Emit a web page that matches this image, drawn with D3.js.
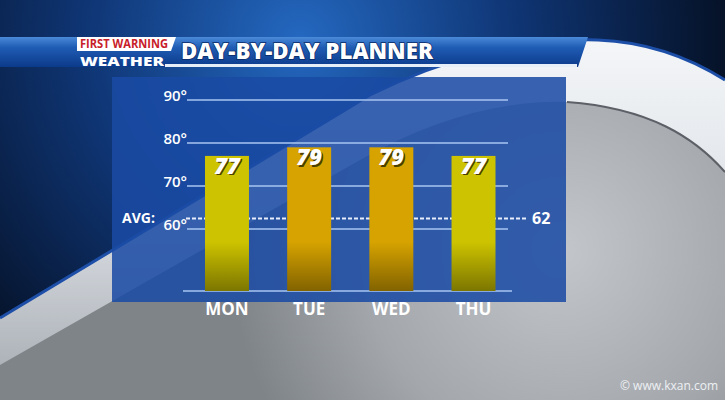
<!DOCTYPE html>
<html>
<head>
<meta charset="utf-8">
<script src="https://cdn.jsdelivr.net/npm/d3@7"></script>
<style>
  html, body { margin: 0; padding: 0; background: #000; }
  svg { display: block; }
  text { font-family: "Open Sans", "DejaVu Sans", sans-serif; }
</style>
</head>
<body>
<div class="chart"></div>
<script>
// chart data
var days = ["MON", "TUE", "WED", "THU"];
var highs = [77, 79, 79, 77];
var barColors = ["#cdc300", "#d6a300", "#d6a300", "#cdc300"];
var tickValues = [60, 70, 80, 90];
var avgValue = 62;
var title = "DAY-BY-DAY PLANNER";

var width = 725, height = 400;

var svg = d3.select(".chart").append("svg")
    .attr("width", width)
    .attr("height", height);

var defs = svg.append("defs");

// background gradients
var sky = defs.append("radialGradient").attr("id", "sky")
    .attr("gradientUnits", "userSpaceOnUse")
    .attr("cx", 300).attr("cy", 40).attr("r", 480);
sky.append("stop").attr("offset", 0).attr("stop-color", "#2468c0");
sky.append("stop").attr("offset", 0.45).attr("stop-color", "#0f3574");
sky.append("stop").attr("offset", 1).attr("stop-color", "#030914");

var grey = defs.append("radialGradient").attr("id", "grey")
    .attr("gradientUnits", "userSpaceOnUse")
    .attr("cx", 560).attr("cy", 250).attr("r", 330);
grey.append("stop").attr("offset", 0).attr("stop-color", "#c3c6ca");
grey.append("stop").attr("offset", 0.6).attr("stop-color", "#a3a7ac");
grey.append("stop").attr("offset", 1).attr("stop-color", "#7f8489");

var ring = defs.append("linearGradient").attr("id", "ring")
    .attr("x1", 0).attr("y1", 0).attr("x2", 0).attr("y2", 1);
ring.append("stop").attr("offset", 0).attr("stop-color", "#f4f6f8");
ring.append("stop").attr("offset", 0.5).attr("stop-color", "#dfe3e8");
ring.append("stop").attr("offset", 1).attr("stop-color", "#aeb3b9");

var band = defs.append("linearGradient").attr("id", "band")
    .attr("x1", 0).attr("y1", 0).attr("x2", 0).attr("y2", 1);
band.append("stop").attr("offset", 0).attr("stop-color", "#4a8ad8");
band.append("stop").attr("offset", 0.35).attr("stop-color", "#1f5cb4");
band.append("stop").attr("offset", 1).attr("stop-color", "#0c3a8a");

// bar gradients: bright on top, dark olive near the base
barColors.forEach(function(c, i) {
  var g = defs.append("linearGradient").attr("id", "bar" + i)
      .attr("gradientUnits", "userSpaceOnUse")
      .attr("x1", 0).attr("y1", 242).attr("x2", 0).attr("y2", 291);
  g.append("stop").attr("offset", 0).attr("stop-color", c);
  g.append("stop").attr("offset", 1).attr("stop-color", d3.color(c).darker(1.4));
});

// backdrop
svg.append("rect").attr("width", width).attr("height", height).attr("fill", "url(#grey)");

// dark sky above the swoosh
svg.append("path")
    .attr("d", "M0,0 L725,0 L725,80 C690,58 650,42 598,40 C520,38 440,60 370,95 L0,318 Z")
    .attr("fill", "url(#sky)");

// silver swoosh
svg.append("path")
    .attr("d", "M0,318 L370,95 C440,60 520,38 598,40 C650,42 690,58 725,80 L725,172 C695,138 650,108 567,102 C500,100 430,120 360,160 L0,365 Z")
    .attr("fill", "url(#ring)");
svg.append("path")
    .attr("d", "M0,318 L370,95 C440,60 520,38 598,40 C650,42 690,58 725,80")
    .attr("fill", "none").attr("stroke", "#1d4fa8").attr("stroke-width", 3);
svg.append("path")
    .attr("d", "M725,172 C695,138 650,108 567,102")
    .attr("fill", "none").attr("stroke", "#5d6167").attr("stroke-width", 2);

// chart panel
svg.append("rect")
    .attr("x", 112).attr("y", 77).attr("width", 454).attr("height", 225)
    .attr("fill", "#1a4ba4").attr("opacity", 0.86);

// scales
var x = d3.scaleBand()
    .domain(days)
    .range([205, 495.5])
    .paddingInner(0.465)
    .paddingOuter(0);

var y = d3.scaleLinear()
    .domain([45.6, 90])
    .range([291, 100]);

// grid lines
svg.append("g").selectAll("line")
    .data(tickValues)
    .enter().append("line")
    .attr("x1", 187).attr("x2", 508)
    .attr("y1", function(d) { return y(d); })
    .attr("y2", function(d) { return y(d); })
    .attr("stroke", "#a9c6f2").attr("stroke-width", 1.5);

svg.append("line")
    .attr("x1", 183).attr("x2", 512)
    .attr("y1", y.range()[0]).attr("y2", y.range()[0])
    .attr("stroke", "#a9c6f2").attr("stroke-width", 1.5);

// tick labels
svg.append("g").selectAll("text")
    .data(tickValues)
    .enter().append("text")
    .attr("x", 187)
    .attr("y", function(d) { return y(d) + 1; })
    .attr("text-anchor", "end")
    .attr("fill", "#fff")
    .attr("font-size", 15)
    .attr("font-weight", 600)
    .text(function(d) { return d + "°"; });

// average line
svg.append("line")
    .attr("x1", 186).attr("x2", 527)
    .attr("y1", y(avgValue) - 2).attr("y2", y(avgValue) - 2)
    .attr("stroke", "#e8eefc").attr("stroke-width", 2)
    .attr("stroke-dasharray", "4,2");

svg.append("text")
    .attr("x", 122).attr("y", y(avgValue) + 3)
    .attr("fill", "#fff").attr("font-size", 14).attr("font-weight", 700)
    .text("AVG:");

svg.append("text")
    .attr("x", 532).attr("y", y(avgValue) + 4)
    .attr("fill", "#fff").attr("font-size", 16).attr("font-weight", 700)
    .text(avgValue);

// bars
svg.append("g").selectAll("rect")
    .data(highs)
    .enter().append("rect")
    .attr("x", function(d, i) { return x(days[i]); })
    .attr("y", function(d) { return y(d); })
    .attr("width", x.bandwidth())
    .attr("height", function(d) { return y.range()[0] - y(d); })
    .attr("fill", function(d, i) { return "url(#bar" + i + ")"; });

// bar values (shadow then white)
var vals = svg.append("g");
vals.selectAll("text.shadow")
    .data(highs)
    .enter().append("text")
    .attr("class", "shadow")
    .attr("x", function(d, i) { return x(days[i]) + x.bandwidth() / 2 + 1.5; })
    .attr("y", function(d) { return y(d) + 19.5; })
    .attr("text-anchor", "middle")
    .attr("fill", "#4a3f00").attr("font-size", 22).attr("font-weight", 800)
    .attr("font-style", "italic")
    .text(function(d) { return d; });
vals.selectAll("text.val")
    .data(highs)
    .enter().append("text")
    .attr("class", "val")
    .attr("x", function(d, i) { return x(days[i]) + x.bandwidth() / 2; })
    .attr("y", function(d) { return y(d) + 18; })
    .attr("text-anchor", "middle")
    .attr("fill", "#fff").attr("font-size", 22).attr("font-weight", 800)
    .attr("font-style", "italic")
    .text(function(d) { return d; });

// day labels
svg.append("g").selectAll("text")
    .data(days)
    .enter().append("text")
    .attr("x", function(d) { return x(d) + x.bandwidth() / 2; })
    .attr("y", 315)
    .attr("text-anchor", "middle")
    .attr("fill", "#fff").attr("font-size", 17).attr("font-weight", 700)
    .text(function(d) { return d; });

// header band
svg.append("path")
    .attr("d", "M0,37 L588,37 L578,67 L0,67 Z")
    .attr("fill", "url(#band)");
svg.append("rect")
    .attr("x", 165).attr("y", 64).attr("width", 412).attr("height", 3)
    .attr("fill", "#e6eef8");

// logo
svg.append("path")
    .attr("d", "M77,37 L176,37 L171,51 L77,51 Z")
    .attr("fill", "#fff");
svg.append("text")
    .attr("x", 80).attr("y", 48)
    .attr("fill", "#c8202a").attr("font-size", 12).attr("font-weight", 700)
    .attr("textLength", 88).attr("lengthAdjust", "spacingAndGlyphs")
    .text("FIRST WARNING");
svg.append("text")
    .attr("x", 80).attr("y", 66)
    .attr("fill", "#fff").attr("font-size", 13).attr("font-weight", 800)
    .attr("textLength", 84).attr("lengthAdjust", "spacingAndGlyphs")
    .text("WEATHER");

svg.append("text")
    .attr("x", 181).attr("y", 59)
    .attr("fill", "#fff").attr("font-size", 22).attr("font-weight", 800)
    .attr("textLength", 252).attr("lengthAdjust", "spacingAndGlyphs")
    .style("paint-order", "stroke").attr("stroke", "#0a2a66").attr("stroke-width", 1.5)
    .text(title);

// watermark
svg.append("text")
    .attr("x", 718).attr("y", 390)
    .attr("text-anchor", "end")
    .attr("fill", "#eef0f3").attr("font-size", 12)
    .text("© www.kxan.com");
</script>
</body>
</html>
